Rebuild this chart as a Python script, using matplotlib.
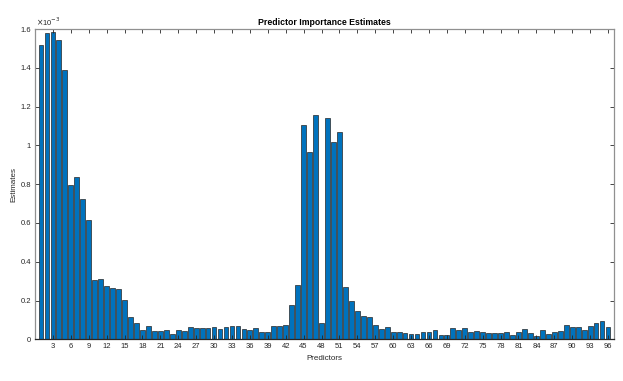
import numpy as np
import matplotlib
matplotlib.use('Agg')
import matplotlib.pyplot as plt

plt.rcParams['font.family'] = ['Liberation Sans', 'DejaVu Sans']

# importance estimates, in units of 1e-3
estimates = [
    1.517, 1.579, 1.586, 1.543, 1.390, 0.795, 0.836, 0.723, 0.616, 0.304,
    0.313, 0.274, 0.267, 0.258, 0.202, 0.116, 0.082, 0.048, 0.068, 0.043,
    0.043, 0.048, 0.026, 0.048, 0.041, 0.063, 0.058, 0.058, 0.058, 0.063,
    0.053, 0.063, 0.068, 0.068, 0.053, 0.046, 0.056, 0.038, 0.036, 0.068,
    0.070, 0.074, 0.179, 0.279, 1.103, 0.967, 1.155, 0.086, 1.139, 1.017,
    1.069, 0.270, 0.200, 0.144, 0.118, 0.113, 0.072, 0.053, 0.063, 0.036,
    0.036, 0.034, 0.029, 0.029, 0.036, 0.036, 0.046, 0.022, 0.022, 0.056,
    0.046, 0.056, 0.038, 0.041, 0.038, 0.031, 0.031, 0.034, 0.039, 0.021,
    0.036, 0.053, 0.031, 0.017, 0.046, 0.026, 0.038, 0.043, 0.074, 0.063,
    0.063, 0.048, 0.070, 0.082, 0.092, 0.062,
]
predictors = np.arange(1, len(estimates) + 1)
xticks = list(range(3, 97, 3))
yticks = [0, 0.2, 0.4, 0.6, 0.8, 1.0, 1.2, 1.4, 1.6]
ytick_labels = ['0', '0.2', '0.4', '0.6', '0.8', '1', '1.2', '1.4', '1.6']

fig = plt.figure(figsize=(6.23, 3.81), dpi=100)
ax = fig.add_axes([35/623, 1 - 339.3/381, (614 - 35)/623, (339.3 - 29)/381])

ax.bar(predictors, estimates, width=0.8, color='#0072BD', edgecolor='#262626', linewidth=0.5)

ax.set_xlim(0, 97)
ax.set_ylim(0, 1.6)
ax.set_xticks(xticks)
ax.set_yticks(yticks)
ax.set_yticklabels(ytick_labels)
ax.tick_params(direction='in', length=3, width=0.6, labelsize=5.5, colors='#262626',
               top=True, right=True, pad=3)

for s in ax.spines.values():
    s.set_color('#909090')
    s.set_linewidth(0.9)
ax.spines['bottom'].set_color('#262626')

ax.set_title('Predictor Importance Estimates', fontsize=6.3, fontweight='bold', pad=3)
ax.set_xlabel('Predictors', fontsize=5.8, color='#262626', labelpad=3)
ax.set_ylabel('Estimates', fontsize=5.8, color='#262626', labelpad=2)
ax.text(0.002, 1.004, r'$\times$10$^{-3}$', transform=ax.transAxes, fontsize=5.5,
        color='#262626', ha='left', va='bottom')

fig.savefig('out.png', dpi=100)
